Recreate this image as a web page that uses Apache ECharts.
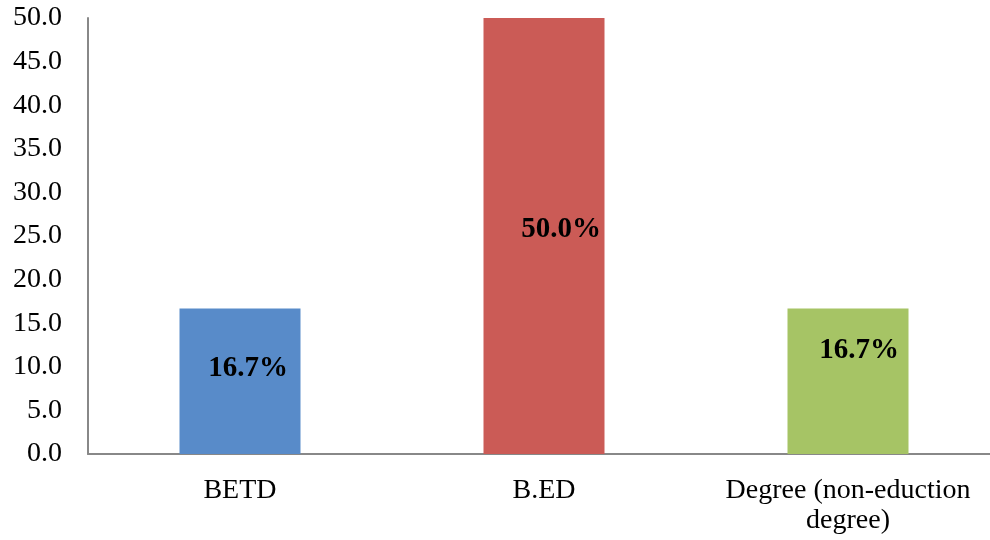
<!DOCTYPE html>
<html>
<head>
<meta charset="utf-8">
<script src="https://cdn.jsdelivr.net/npm/echarts@6/dist/echarts.min.js"></script>
<style>
  html, body { margin: 0; padding: 0; background: #fff; }
  #chart { width: 990px; height: 540px; }
</style>
</head>
<body>
<div id="chart"></div>
<script>
// data
var categories = ['BETD', 'B.ED', 'Degree (non-eduction\ndegree)'];
var values = [16.7, 50.0, 16.7];
var barColors = ['#588BC9', '#CB5B56', '#A6C465'];
// label nudges
var labelOffsets = [[8, -13], [17, -6], [11, -31]];

var myChart = echarts.init(document.getElementById('chart'));

var option = {
    backgroundColor: '#fff',
    animation: false,
    grid: { left: 88, top: 18, bottom: 86, width: 912, outerBoundsMode: 'none' },
    xAxis: {
        type: 'category',
        data: categories,
        axisLine: { lineStyle: { color: '#888', width: 2 } },
        axisTick: { show: false },
        axisLabel: {
            color: '#000',
            fontFamily: 'Liberation Serif',
            fontSize: 28,
            margin: 22,
            lineHeight: 30,
            interval: 0
        }
    },
    yAxis: {
        type: 'value',
        min: 0,
        max: 50,
        interval: 5,
        axisLine: { show: true, lineStyle: { color: '#888', width: 2 } },
        axisTick: { show: false },
        splitLine: { show: false },
        axisLabel: {
            color: '#000',
            fontFamily: 'Liberation Serif',
            fontSize: 28,
            margin: 26,
            formatter: function (v) { return v.toFixed(1); }
        }
    },
    series: [{
        type: 'bar',
        barWidth: 121,
        data: values.map(function (v, i) {
            return {
                value: v,
                itemStyle: { color: barColors[i] },
                label: { offset: labelOffsets[i] }
            };
        }),
        label: {
            show: true,
            position: 'inside',
            color: '#000',
            fontFamily: 'Liberation Serif',
            fontWeight: 'bold',
            fontSize: 29,
            formatter: function (p) { return p.value.toFixed(1) + '%'; }
        }
    }]
};

myChart.setOption(option);
</script>
</body>
</html>
